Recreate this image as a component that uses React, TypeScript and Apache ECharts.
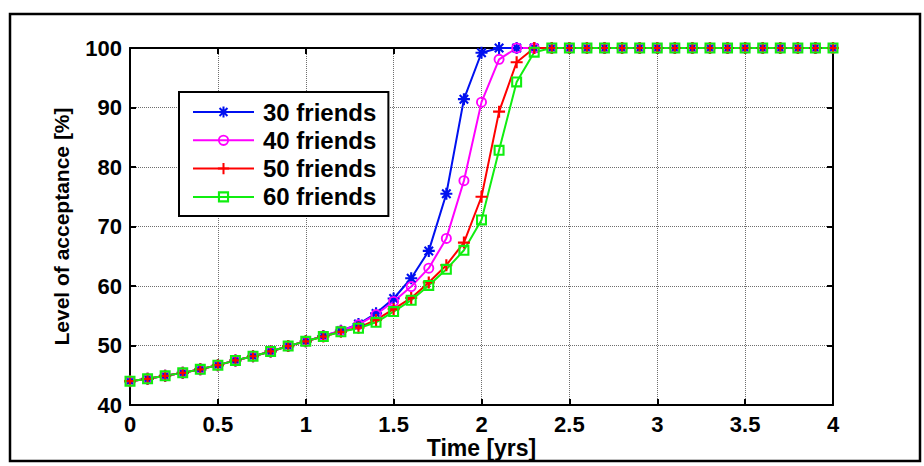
import React, { useEffect, useRef } from "react";
import * as echarts from "echarts";

// Time axis samples [yrs]
const years = [
  0, 0.1, 0.2, 0.3, 0.4, 0.5, 0.6, 0.7, 0.8, 0.9,
  1.0, 1.1, 1.2, 1.3, 1.4, 1.5, 1.6, 1.7, 1.8, 1.9,
  2.0, 2.1, 2.2, 2.3, 2.4, 2.5, 2.6, 2.7, 2.8, 2.9,
  3.0, 3.1, 3.2, 3.3, 3.4, 3.5, 3.6, 3.7, 3.8, 3.9, 4.0,
];

// Level of acceptance [%] for each friend count
const friends30 = [
  44.0, 44.4, 44.9, 45.4, 46.0, 46.7, 47.5, 48.2, 49.0, 49.9,
  50.7, 51.6, 52.5, 53.6, 55.4, 57.9, 61.3, 65.9, 75.5, 91.4,
  99.2, 100, 100, 100, 100, 100, 100, 100, 100, 100,
  100, 100, 100, 100, 100, 100, 100, 100, 100, 100, 100,
];
const friends40 = [
  44.0, 44.4, 44.9, 45.4, 46.0, 46.7, 47.5, 48.2, 49.0, 49.9,
  50.7, 51.6, 52.5, 53.5, 55.2, 57.4, 59.9, 63.0, 68.0, 77.7,
  90.9, 98.1, 100, 100, 100, 100, 100, 100, 100, 100,
  100, 100, 100, 100, 100, 100, 100, 100, 100, 100, 100,
];
const friends50 = [
  44.0, 44.4, 44.9, 45.4, 46.0, 46.7, 47.5, 48.2, 49.0, 49.9,
  50.7, 51.5, 52.3, 53.0, 54.3, 56.1, 58.0, 60.6, 63.5, 67.3,
  75.0, 89.3, 97.6, 100, 100, 100, 100, 100, 100, 100,
  100, 100, 100, 100, 100, 100, 100, 100, 100, 100, 100,
];
const friends60 = [
  44.0, 44.4, 44.9, 45.4, 46.0, 46.7, 47.5, 48.2, 49.0, 49.9,
  50.7, 51.5, 52.3, 52.9, 53.9, 55.7, 57.6, 60.1, 62.8, 66.0,
  71.1, 82.8, 94.3, 99.3, 100, 100, 100, 100, 100, 100,
  100, 100, 100, 100, 100, 100, 100, 100, 100, 100, 100,
];

const seriesNames = ["30 friends", "40 friends", "50 friends", "60 friends"];
const seriesValues = [friends30, friends40, friends50, friends60];

const xTicks = { min: 0, max: 4, interval: 0.5 };
const yTicks = { min: 40, max: 100, interval: 10 };

// Marker outlines drawn as filled shapes so they keep a visible stroke width
const ASTERISK =
  "path://M-1.8 -10H1.8V10H-1.8Z M-10 -1.8H10V1.8H-10Z " +
  "M-5.8 -8.3L8.3 5.8L5.8 8.3L-8.3 -5.8Z M5.8 -8.3L8.3 -5.8L-5.8 8.3L-8.3 5.8Z";
const RING =
  "path://M0 -10A10 10 0 1 1 0 10A10 10 0 1 1 0 -10Z M0 -6.6A6.6 6.6 0 1 0 0 6.6A6.6 6.6 0 1 0 0 -6.6Z";
const PLUS = "path://M-1.8 -10H1.8V10H-1.8Z M-10 -1.8H10V1.8H-10Z";
const SQUARE = "path://M-10 -10H10V10H-10Z M-6.2 -6.2V6.2H6.2V-6.2Z";

const colors = ["#0010f0", "#ff00ff", "#ff0000", "#10ee10"];
const symbols = [ASTERISK, RING, PLUS, SQUARE];
const symbolSizes = [12, 11, 12, 11];

const FONT = "'Liberation Sans', Arial, Helvetica, sans-serif";

export default function App() {
  const ref = useRef<HTMLDivElement>(null);

  useEffect(() => {
    if (!ref.current) return;
    const chart = echarts.init(ref.current, undefined, { renderer: "svg" });

    const labelStyle = {
      color: "#000",
      fontFamily: FONT,
      fontWeight: "bold" as const,
      fontSize: 22,
    };
    const boxAxisLine = { show: true, onZero: false, lineStyle: { color: "#000", width: 2 } };
    const tickIn = { show: true, inside: true, length: 6, lineStyle: { color: "#000", width: 2 } };
    const grid = { show: true, type: "dotted" as const, color: "#6e6e6e", width: 1 };

    chart.setOption({
      animation: false,
      backgroundColor: "#fff",
      grid: { left: 130, top: 48, width: 703, height: 357, containLabel: false },
      legend: {
        orient: "vertical",
        left: 179,
        top: 92,
        data: seriesNames,
        backgroundColor: "#fff",
        borderColor: "#000",
        borderWidth: 2,
        borderRadius: 0,
        padding: [8, 12, 7, 13],
        itemWidth: 61,
        itemHeight: 14,
        itemGap: 4.3,
        textStyle: {
          color: "#000",
          fontFamily: FONT,
          fontWeight: "bold",
          fontSize: 24,
          padding: [0, 0, 0, 4],
        },
      },
      xAxis: [
        {
          type: "value",
          ...xTicks,
          name: "Time [yrs]",
          nameLocation: "middle",
          nameGap: 33,
          nameMoveOverlap: false,
          nameTextStyle: { ...labelStyle, fontSize: 23, lineHeight: 20 },
          axisLine: boxAxisLine,
          axisTick: tickIn,
          axisLabel: { ...labelStyle, margin: 10, lineHeight: 18 },
          splitLine: { show: true, lineStyle: grid },
        },
        {
          type: "value",
          position: "top",
          ...xTicks,
          axisLine: boxAxisLine,
          axisTick: tickIn,
          axisLabel: { show: false },
          splitLine: { show: false },
        },
      ],
      yAxis: [
        {
          type: "value",
          ...yTicks,
          name: "Level of acceptance [%]",
          nameLocation: "middle",
          nameGap: 58,
          nameMoveOverlap: false,
          nameTextStyle: { ...labelStyle, fontSize: 21 },
          axisLine: boxAxisLine,
          axisTick: tickIn,
          axisLabel: { ...labelStyle, margin: 8 },
          splitLine: { show: true, lineStyle: grid },
        },
        {
          type: "value",
          position: "right",
          ...yTicks,
          axisLine: boxAxisLine,
          axisTick: tickIn,
          axisLabel: { show: false },
          splitLine: { show: false },
        },
      ],
      series: seriesNames.map((name, i) => ({
        name,
        type: "line",
        xAxisIndex: 0,
        yAxisIndex: 0,
        data: years.map((t, k) => [t, seriesValues[i][k]]),
        symbol: symbols[i],
        symbolSize: symbolSizes[i],
        showAllSymbol: true,
        clip: false,
        lineStyle: { color: colors[i], width: 2 },
        itemStyle: { color: colors[i] },
        emphasis: { disabled: true },
      })),
      graphic: [
        {
          type: "rect",
          shape: { x: 10, y: 14, width: 910, height: 447 },
          style: { fill: "none", stroke: "#000", lineWidth: 2.5 },
          silent: true,
          z: 100,
        },
      ],
    });

    return () => chart.dispose();
  }, []);

  return (
    <div
      ref={ref}
      style={{ position: "absolute", left: 0, top: 0, width: 924, height: 466, background: "#fff" }}
    />
  );
}
